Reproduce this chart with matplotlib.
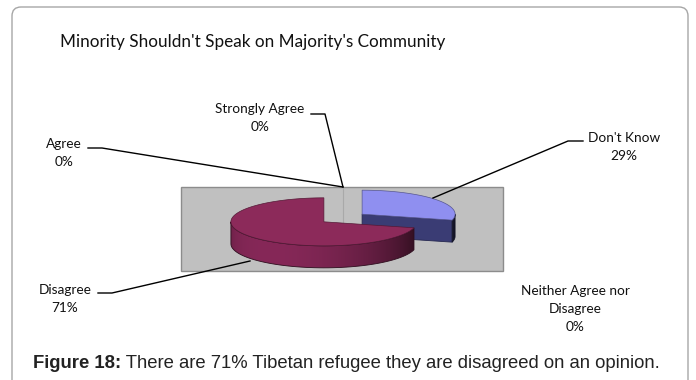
import numpy as np
import matplotlib
matplotlib.use('Agg')
import matplotlib.pyplot as plt
from matplotlib.patches import Polygon, Rectangle, FancyBboxPatch
from matplotlib.colors import to_rgb

# data
categories = ["Strongly Agree", "Agree", "Don't Know", "Disagree",
              "Neither Agree nor\nDisagree"]
values = [0, 0, 29, 71, 0]
top_colors = ["#9999ff", "#993366", "#8f8ff0", "#8c2a5a", "#ffffcc"]
side_colors = ["#3c3e76", "#5a1a38", "#3c3e76", "#862858", "#999977"]

title = "Minority Shouldn't Speak on Majority's Community"
caption_bold = "Figure 18:"
caption_rest = " There are 71% Tibetan refugee they are disagreed on an opinion."

# layout (pixel coords, y down)
W, H = 696, 380
CX, CY = 343, 218          # pie centre
RX, RY, DEPTH = 93, 24, 22
EXPLODE = 0.26
label_pos = [(260, 118), (64, 153), (624, 147), (65, 299), (575, 309)]
leaders = [[(311, 114), (325, 114), (343, 187)],
           [(88, 148), (102, 148), (343, 187)],
           [(583, 141), (568, 141), (433, 198)],
           [(98, 293), (112, 293), (250, 261)],
           None]

LABEL_FONT = 'Lato'

fig = plt.figure(figsize=(W / 100, H / 100), dpi=100)
ax = fig.add_axes([0, 0, 1, 1])
ax.axis('off')

# outer frame
ax.add_patch(FancyBboxPatch((12, 7), 676, 420,
                            boxstyle="round,pad=0,rounding_size=9",
                            facecolor='white', edgecolor='#a6a6a6', lw=1,
                            zorder=0.5))

# plot area
ax.add_patch(Rectangle((181, 187), 322, 84, facecolor='#c0c0c0',
                       edgecolor='#8c8c8c', lw=1, zorder=0.8))
ax.plot([CX, CX], [187, 226], color='#a9a9a9', lw=0.8, zorder=0.9)


def rim(cx, cy, a0, a1, dy=0, n=60):
    t = np.radians(np.linspace(a0, a1, n))
    return np.column_stack([cx + RX * np.cos(t), cy - RY * np.sin(t) + dy])


def shade(c, f):
    return tuple(np.clip(np.array(to_rgb(c)) * f, 0, 1))


def light(theta):
    return 0.55 + 0.45 * np.cos(np.radians(theta - 235))


# slice angles, clockwise from 12 o'clock
total = float(sum(values))
slices = []
cum = 0.0
for i, v in enumerate(values):
    if v > 0:
        s = 90 - (cum + v) / total * 360
        e = 90 - cum / total * 360
        mid = np.radians((s + e) / 2)
        cx = CX + EXPLODE * RX * np.cos(mid)
        cy = CY - EXPLODE * RY * np.sin(mid)
        slices.append((cy, i, s, e, cx))
    cum += v

for cy, i, s, e, cx in sorted(slices):
    top = top_colors[i]
    side = side_colors[i]
    # cut faces turned towards the viewer
    for a, vis in ((s, np.cos(np.radians(s)) > 0),
                   (e, np.cos(np.radians(e)) < 0)):
        if vis:
            p = rim(cx, cy, a, a, n=1)[0]
            face = [(cx, cy), tuple(p), (p[0], p[1] + DEPTH), (cx, cy + DEPTH)]
            ax.add_patch(Polygon(face, closed=True, facecolor='#3a3c74',
                                 edgecolor='#262850', lw=0.6, zorder=1))
    # outer wall on the front half, shaded with a gradient
    for k in (-360, 0, 360):
        a0, a1 = max(s, k - 180), min(e, k)
        if a1 <= a0:
            continue
        up = rim(cx, cy, a0, a1)
        lo = rim(cx, cy, a1, a0, dy=DEPTH)
        wall = Polygon(np.vstack([up, lo]), closed=True, facecolor='none',
                       edgecolor=shade(side, 0.35), lw=0.6, zorder=1.1)
        ax.add_patch(wall)
        xs = np.linspace(cx - RX, cx + RX, 200)
        th = 360 - np.degrees(np.arccos(np.clip((xs - cx) / RX, -1, 1)))
        grad = np.array([shade(side, f) for f in light(th)])[None, :, :]
        im = ax.imshow(grad, extent=(cx - RX, cx + RX, cy + RY + DEPTH, cy - 2),
                       aspect='auto', interpolation='bilinear', zorder=1)
        im.set_clip_path(wall)
    # top surface
    pts = np.vstack([[(cx, cy)], rim(cx, cy, s, e, n=120)])
    ax.add_patch(Polygon(pts, closed=True, facecolor=top,
                         edgecolor=shade(top, 0.6), lw=0.5, zorder=1.2))

# leader lines and labels
for name, v, (lx, ly), ld in zip(categories, values, label_pos, leaders):
    if ld is not None:
        xs, ys = zip(*ld)
        ax.plot(xs, ys, color='black', lw=1, zorder=2)
    ax.text(lx, ly, "%s\n%d%%" % (name, round(v / total * 100)),
            ha='center', va='center', multialignment='center',
            fontsize=9.8, family=LABEL_FONT, linespacing=1.6,
            color='#111111')

ax.text(60, 42, title, ha='left', va='center', fontsize=12.3,
        family=LABEL_FONT, color='#111111')

ax.set_xlim(0, W)
ax.set_ylim(H, 0)

# caption
t1 = ax.text(33, 363, caption_bold, ha='left', va='center', fontsize=13.3,
             fontweight='bold', family='Liberation Sans', color='#222222')
fig.canvas.draw()
bb = t1.get_window_extent()
x_end = ax.transData.inverted().transform((bb.x1, bb.y0))[0]
ax.text(x_end, 363, caption_rest, ha='left', va='center', fontsize=13.3,
        family='Liberation Sans', color='#222222')

fig.savefig('out.png', dpi=100)
